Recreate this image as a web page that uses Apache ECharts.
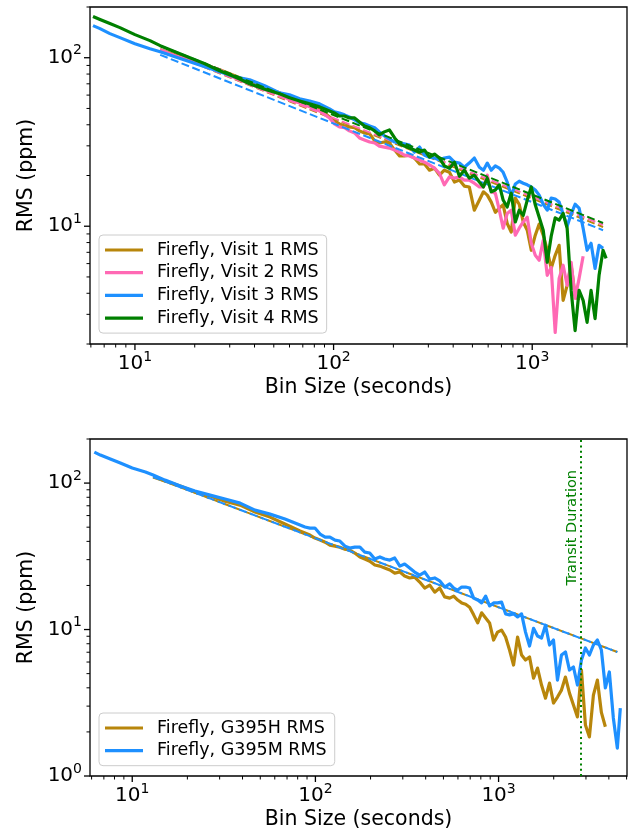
<!DOCTYPE html>
<html><head><meta charset="utf-8">
<script src="https://cdn.jsdelivr.net/npm/echarts@6/dist/echarts.min.js"></script>
<style>html,body{margin:0;padding:0;background:#fff;overflow:hidden}#c{width:630px;height:834px}</style>
</head><body><div id="c"></div><script>
const FONT = 'DejaVu Sans';

// ---------- Top panel: four visits ----------
const binTop = [6.15, 6.67, 7.48, 8.4, 10, 11.9, 13.4, 15.9, 18.9, 22.5, 26.7, 31.8, 37.8, 45, 53.5, 60, 67.5, 75.8, 85, 95.4,
  101, 107, 113.5, 120, 127.6, 135, 143, 152, 161, 170, 180, 191, 203, 215, 227, 241, 255, 271, 287, 304, 322, 341, 361, 383, 406, 430, 455, 482, 511, 542,
  568, 594, 622, 652, 683, 714, 748, 784, 822, 860, 901, 944, 989, 1036, 1084, 1136, 1190, 1246, 1305, 1366, 1431, 1499, 1570, 1644, 1722, 1804, 1889, 1978, 2072, 2170, 2273, 2355];

const rmsVisit1 = [null, null, null, null, null, null, 111.6, 104.2, 97.3, 90.9, 84.8, 78.1, 72.0, 66.3, 61.9, 57.8, 54.7, 52.5, 49.7, 44.5,
  42.2, 40.5, 39.4, 38.9, 38.4, 36.8, 35.8, 35.3, 32.1, 31.2, 31.6, 31.2, 28.3, 26.1, 26.1, 26.4, 25.4, 23.4, 23.4, 21.5, 22.1, 20.1, 21.5, 20.9, 18.3, 18.8, 17.3, 17.1, 12.45, 14.3,
  16.0, 15.3, 13.9, 12.1, 12.8, 13.4, 10.4, 9.22, 14.7, 13.5, 10.6, 9.47, 7.20, 8.85, 10.3, 8.85, 7.20, 5.62, 6.72, 7.70, 3.63, 4.46, 5.87, 3.89, 3.63, null, null, null, null, null, null, null];

const rmsVisit2 = [null, null, null, null, null, null, 111.6, 102.8, 97.3, 90.9, 84.8, 76.0, 70.1, 64.5, 61.1, 56.2, 53.9, 51.1, 48.3, 43.9,
  40.5, 38.9, 38.4, 36.8, 35.8, 33.4, 32.5, 31.6, 31.2, 29.9, 29.5, 29.1, 28.3, 27.5, 26.4, 26.1, 25.4, 24.7, 24.0, 23.1, 22.1, 20.6, 17.6, 19.6, 19.3, 19.6, 18.8, 18.8, 18.0, 17.1,
  17.1, 20.1, 16.0, 15.7, 12.45, 9.73, 11.9, 12.45, 8.85, 9.73, 10.6, 11.3, 7.92, 6.72, 6.28, 8.25, 5.11, 5.70, 2.34, 4.90, 5.87, 4.46, 6.11, 3.73, 4.90, 6.63, null, null, null, null, null, null];

const rmsVisit3 = [155.1, 148.8, 139.0, 131.6, 121.2, 113.1, 108.6, 101.4, 94.7, 88.4, 82.5, 77.1, 74.0, 68.2, 61.9, 60.2, 57.0, 55.4, 53.2, 49.7,
  47.7, 47.0, 45.8, 44.5, 42.8, 41.1, 40.5, 39.4, 38.4, 36.3, 34.4, 33.0, 31.6, 31.2, 30.8, 30.3, 27.5, 29.5, 26.4, 25.7, 25.4, 24.7, 25.4, 25.7, 24.0, 23.7, 22.4, 23.7, 25.4, 22.4,
  21.5, 23.7, 21.5, 22.8, 22.1, 20.9, 18.3, 15.1, 17.8, 18.5, 18.0, 17.6, 17.1, 16.4, 15.3, 13.5, 12.45, 14.7, 14.5, 13.9, 11.8, 10.0, 11.8, 13.5, 12.8, 9.73, 7.20, 7.92, 5.62, 7.70, 7.39, null];

const rmsVisit4 = [175.5, 168.4, 159.4, 150.9, 137.1, 126.3, 117.9, 108.6, 100.0, 92.1, 83.6, 77.1, 70.1, 65.0, 61.1, 57.8, 55.4, 53.2, 51.1, 48.3,
  47.0, 45.1, 45.1, 43.9, 43.9, 41.6, 39.4, 38.4, 36.8, 34.8, 36.3, 37.3, 33.4, 30.8, 29.9, 29.1, 28.3, 27.5, 28.3, 25.7, 26.8, 25.4, 22.8, 22.1, 24.0, 19.8, 21.5, 19.3, 20.1, 18.3,
  17.1, 19.3, 16.0, 16.4, 17.6, 14.3, 13.0, 15.7, 10.6, 12.45, 11.6, 14.3, 17.1, 13.4, 11.3, 9.47, 6.11, 8.72, 11.2, 10.86, 11.9, 9.73, 4.16, 2.40, 4.16, 3.63, 2.69, 4.16, 2.83, 5.11, 7.20, 6.45];

// expected (white-noise) lines, end points
const fitBinTop = [13.4, 2273];
const fitVisit1 = [112, 9.9];
const fitVisit2 = [112, 10.2];
const fitVisit3 = [104, 9.47];
const fitVisit4 = [118, 10.45];

// ---------- Bottom panel: G395H vs G395M ----------
const binBottom = [6.21, 6.70, 7.59, 8.61, 10, 11.8, 13.0, 15.1, 18.3, 22.0, 26.6, 32.1, 38.8, 46.8, 56.5, 68.2, 82.4,
  87.7, 93.3, 99.4, 106, 113, 120, 128, 136, 145, 154, 164, 175, 186, 198, 211, 225, 239, 255, 271, 289, 307, 327, 348, 371, 395, 421, 448, 477, 508, 541,
  569, 598, 629, 661, 695, 731, 769, 808, 850, 893, 939, 988, 1038, 1092, 1148, 1207, 1270, 1335, 1403, 1476, 1552, 1632, 1716, 1804, 1897, 1994, 2097, 2205, 2318, 2438, 2563, 2695, 2834, 2979, 3133, 3294, 3463, 3641, 3828, 4025, 4232, 4450, 4620];

const rmsG395H = [null, null, null, null, null, null, 109.9, 103.2, 95.4, 86.8, 81.5, 75.3, 70.7, 63.4, 58.6, 52.5, 47.1,
  45.6, 44.2, 42.1, 40.8, 39.5, 37.7, 37.1, 36.5, 35.4, 34.9, 33.3, 31.3, 30.3, 29.3, 27.6, 27.1, 26.3, 25.5, 24.3, 24.7, 23.2, 22.5, 22.8, 21.1, 19.2, 20.1, 18.0, 19.2, 16.7, 16.4,
  16.9, 15.9, 15.2, 14.9, 14.2, 12.6, 11.1, 13.0, 12.0, 11.1, 8.48, 9.61, 9.92, 8.89, 7.25, 5.72, 8.89, 6.70, 6.19, 6.49, 4.66, 5.46, 4.18, 3.40, 4.31, 3.15, 3.46, 3.86, 4.74, 3.68, 3.05, 2.53, 5.29, 2.23, 1.85, 3.57, 4.52, 2.72, 2.17, null, null, null, null];

const rmsG395M = [162.8, 155.3, 145.8, 137.0, 126.6, 118.9, 113.4, 104.8, 95.4, 88.2, 82.8, 77.8, 73.0, 65.4, 61.4, 56.8, 51.7,
  50.1, 49.3, 49.3, 44.9, 42.8, 42.8, 40.8, 40.2, 37.1, 36.0, 36.5, 36.5, 33.8, 33.3, 30.3, 31.3, 30.3, 29.8, 30.8, 27.1, 28.0, 26.3, 24.7, 23.5, 24.7, 22.1, 22.5, 21.5, 19.5, 20.5,
  19.2, 18.6, 19.5, 19.5, 19.2, 16.4, 15.9, 15.2, 16.9, 14.5, 15.2, 15.2, 15.4, 12.8, 12.6, 12.8, 12.2, 12.8, 9.61, 7.72, 10.2, 9.03, 8.75, 10.7, 7.84, 8.48, 4.52, 6.70, 7.03, 5.29, 5.55, 4.18, 6.19, 7.48, 6.70, 7.84, 8.48, 7.25, 3.99, 5.13, 2.49, 1.55, 2.91];

const fitBinBottom = [13.0, 4450];
const fitG395H = [110, 7.02];
const fitG395M = [110, 7.02];
const transitDuration = 2800;

// ---------- axes ----------
const topXRange = [5.94, 3000], topYRange = [2, 200];
const botXRange = [5.88, 5025], botYRange = [1, 200];
const majorTicks = [1, 10, 100, 1000, 10000];
const minorTicks = [2, 3, 4, 5, 6, 7, 8, 9, 20, 30, 40, 50, 60, 70, 80, 90, 200, 300, 400, 500, 600, 700, 800, 900, 2000, 3000, 4000, 5000, 6000, 7000, 8000, 9000];

const C_GOLD = '#b8860b', C_PINK = '#ff69b4', C_BLUE = '#1e90ff', C_GREEN = '#008000';

function pairs(xs, ys) { return xs.map((x, i) => [x, ys[i]]).filter(p => p[1] != null); }

function solid(name, gi, xs, ys, color) {
  return { name, type: 'line', xAxisIndex: gi, yAxisIndex: gi, data: pairs(xs, ys), symbol: 'none', showSymbol: false,
    color, itemStyle: { color }, lineStyle: { color, width: 3.2, join: 'round' }, animation: false, z: 3 };
}
function dashed(name, gi, xs, ys, color, offset) {
  return { name, type: 'line', xAxisIndex: gi, yAxisIndex: gi, data: pairs(xs, ys), symbol: 'none', showSymbol: false,
    color, lineStyle: { color, width: 2, type: [8, 3.5], dashOffset: offset || 0 }, animation: false, z: 3 };
}
function tickSeries(gi, dim, values, range, len, width) {
  const vals = values.filter(v => v >= range[0] * 0.999 && v <= range[1] * 1.001);
  return {
    type: 'custom', xAxisIndex: gi, yAxisIndex: gi, silent: true, clip: false, animation: false, z: 6,
    data: vals.map(v => dim === 'x' ? [v, 10] : [10, v]),
    renderItem: function (params, api) {
      const cs = params.coordSys;
      const p = api.coord([api.value(0), api.value(1)]);
      let shape;
      if (dim === 'x') { const y0 = cs.y + cs.height; shape = { x1: p[0], y1: y0, x2: p[0], y2: y0 + len }; }
      else { const x0 = cs.x; shape = { x1: x0 - len, y1: p[1], x2: x0, y2: p[1] }; }
      return { type: 'line', shape, style: { stroke: '#000', lineWidth: width } };
    }
  };
}
function powLabel(v) {
  const l = Math.log10(v), e = Math.round(l);
  if (Math.abs(l - e) > 1e-6) return '';
  return '{b|10}{s|' + e + '}';
}
const labelRich = {
  b: { fontSize: 20, fontFamily: FONT, color: '#000', verticalAlign: 'middle' },
  s: { fontSize: 14, fontFamily: FONT, color: '#000', padding: [0, 0, 14, 0], verticalAlign: 'middle' }
};
function xAxis(gi, range) {
  return { type: 'log', logBase: 10, gridIndex: gi, min: range[0], max: range[1],
    name: 'Bin Size (seconds)', nameLocation: 'middle', nameGap: 33,
    nameTextStyle: { fontSize: 20.5, fontFamily: FONT, color: '#000' },
    axisLine: { show: false }, axisTick: { show: false }, splitLine: { show: false }, minorTick: { show: false },
    axisLabel: { formatter: powLabel, rich: labelRich, margin: 6, showMinLabel: true, showMaxLabel: true } };
}
function yAxis(gi, range) {
  return { type: 'log', logBase: 10, gridIndex: gi, min: range[0], max: range[1],
    name: 'RMS (ppm)', nameLocation: 'middle', nameGap: 52,
    nameTextStyle: { fontSize: 20.5, fontFamily: FONT, color: '#000' },
    axisLine: { show: false }, axisTick: { show: false }, splitLine: { show: false }, minorTick: { show: false },
    axisLabel: { formatter: powLabel, rich: labelRich, margin: 8, showMinLabel: true, showMaxLabel: true } };
}
const legendBase = {
  orient: 'vertical', left: 99, icon: 'rect', itemWidth: 38, itemHeight: 3.2, itemGap: 2.7, padding: [5, 8, 5, 6],
  textStyle: { fontSize: 17.5, fontFamily: FONT, color: '#000', lineHeight: 20, padding: [0, 0, 0, 9] },
  backgroundColor: 'rgba(255,255,255,0.8)', borderColor: '#cccccc', borderWidth: 1, borderRadius: 4,
  selectedMode: false
};

const chart = echarts.init(document.getElementById('c'), null, { renderer: 'canvas' });
chart.setOption({
  animation: false,
  backgroundColor: '#fff',
  grid: [
    { left: 90, top: 7, width: 538, height: 337, show: true, borderColor: '#000', borderWidth: 1.3, backgroundColor: 'transparent' },
    { left: 90, top: 439, width: 538, height: 337, show: true, borderColor: '#000', borderWidth: 1.3, backgroundColor: 'transparent' }
  ],
  xAxis: [xAxis(0, topXRange), xAxis(1, botXRange)],
  yAxis: [yAxis(0, topYRange), yAxis(1, botYRange)],
  legend: [
    Object.assign({}, legendBase, { top: 235, data: ['Firefly, Visit 1 RMS', 'Firefly, Visit 2 RMS', 'Firefly, Visit 3 RMS', 'Firefly, Visit 4 RMS'] }),
    Object.assign({}, legendBase, { top: 713, data: ['Firefly, G395H RMS', 'Firefly, G395M RMS'] })
  ],
  series: [
    solid('Firefly, Visit 1 RMS', 0, binTop, rmsVisit1, C_GOLD),
    dashed('fit1', 0, fitBinTop, fitVisit1, C_GOLD),
    solid('Firefly, Visit 2 RMS', 0, binTop, rmsVisit2, C_PINK),
    dashed('fit2', 0, fitBinTop, fitVisit2, C_PINK),
    solid('Firefly, Visit 3 RMS', 0, binTop, rmsVisit3, C_BLUE),
    dashed('fit3', 0, fitBinTop, fitVisit3, C_BLUE),
    solid('Firefly, Visit 4 RMS', 0, binTop, rmsVisit4, C_GREEN),
    dashed('fit4', 0, fitBinTop, fitVisit4, C_GREEN),

    solid('Firefly, G395H RMS', 1, binBottom, rmsG395H, C_GOLD),
    dashed('fitH', 1, fitBinBottom, fitG395H, C_GOLD, 5.5),
    solid('Firefly, G395M RMS', 1, binBottom, rmsG395M, C_BLUE),
    dashed('fitM', 1, fitBinBottom, fitG395M, C_BLUE),
    { name: 'transit', type: 'line', xAxisIndex: 1, yAxisIndex: 1, data: [[transitDuration, botYRange[0]]], symbol: 'none', showSymbol: false,
      lineStyle: { width: 0 }, animation: false, z: 4,
      markLine: { silent: true, symbol: 'none', animation: false,
        lineStyle: { color: C_GREEN, width: 2, type: [2, 3.3] },
        label: { show: true, formatter: 'Transit Duration', position: 'insideEndTop', color: C_GREEN, fontSize: 14.5, fontFamily: FONT, distance: [31, 1] },
        data: [{ xAxis: transitDuration }] } },

    tickSeries(0, 'x', majorTicks, topXRange, 6, 1.3),
    tickSeries(0, 'x', minorTicks, topXRange, 3.5, 1),
    tickSeries(0, 'y', majorTicks, topYRange, 6, 1.3),
    tickSeries(0, 'y', minorTicks, topYRange, 3.5, 1),
    tickSeries(1, 'x', majorTicks, botXRange, 6, 1.3),
    tickSeries(1, 'x', minorTicks, botXRange, 3.5, 1),
    tickSeries(1, 'y', majorTicks, botYRange, 6, 1.3),
    tickSeries(1, 'y', minorTicks, botYRange, 3.5, 1)
  ]
});
</script></body></html>
